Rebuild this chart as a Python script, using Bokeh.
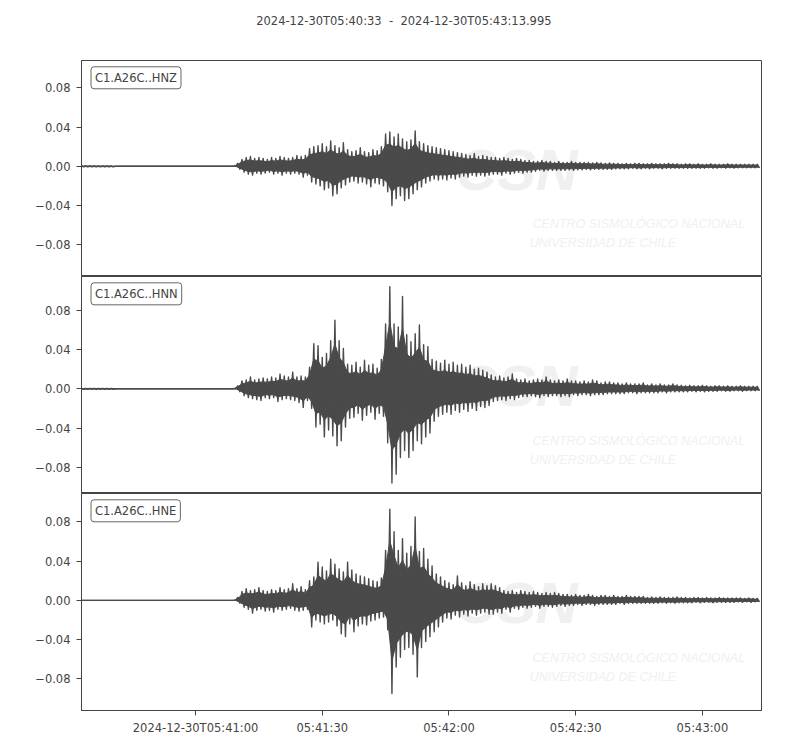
from bokeh.core.properties import value
from bokeh.embed import file_html
from bokeh.layouts import column
from bokeh.models import FixedTicker, Label, Range1d
from bokeh.plotting import figure
from bokeh.resources import INLINE

title_text = "2024-12-30T05:40:33 \u00a0-\u00a0 2024-12-30T05:43:13.995"
channels = ["C1.A26C..HNZ", "C1.A26C..HNN", "C1.A26C..HNE"]
duration = 160.995  # seconds after 05:40:33
seconds = list(range(161))

x_ticks = [27, 57, 87, 117, 147]
x_tick_labels = ["2024-12-30T05:41:00", "05:41:30", "05:42:00", "05:42:30", "05:43:00"]
y_ticks = [0.08, 0.04, 0.0, -0.04, -0.08]
y_tick_labels = ["0.08", "0.04", "0.00", "\u22120.04", "\u22120.08"]
y_limits = [(-0.1125, 0.108), (-0.1067, 0.1144), (-0.1123, 0.109)]

watermark = ["CSN", "CENTRO SISMOL\u00d3GICO NACIONAL", "UNIVERSIDAD DE CHILE"]

# envelope of each trace per second, in units of 0.001 (upper peak, lower peak)
hnz_hi = [0.5, 0.5, 0.5, 0.5, 0.5, 0.5, 0.5, 0.5, 0, 0,
          0, 0, 0, 0, 0, 0, 0, 0, 0, 0,
          0, 0, 0, 0, 0, 0, 0, 0, 0, 0,
          0, 0, 0, 0, 0, 0, 0, 3, 7, 9,
          10, 8, 9, 8, 7, 9, 8, 10, 9, 8,
          9, 11, 10, 11, 18, 20, 21, 23, 20, 26,
          21, 19, 24, 17, 15, 16, 19, 15, 14, 17,
          16, 20, 33, 35, 30, 33, 28, 25, 27, 36,
          25, 23, 21, 20, 19, 18, 17, 16, 15, 14,
          13, 12, 11, 13, 10, 11, 10, 9, 9, 8,
          9, 8, 7, 8, 7, 6, 6, 5, 5, 6,
          5, 5, 4, 5, 4, 4, 5, 4, 4, 4,
          4, 3.5, 4, 3.5, 3, 3.5, 3, 3, 2.5, 3,
          2.5, 3, 3, 2.5, 2.5, 3, 2.5, 2.5, 2.5, 3,
          2.5, 2.5, 2, 2.5, 2.5, 2, 2.5, 2, 2, 2.5,
          2, 2, 2, 2.5, 2, 2, 2, 2, 2, 2,
          2]
hnz_lo = [-0.5, -0.5, -0.5, -0.5, -0.5, -0.5, -0.5, -0.5, 0, 0,
          0, 0, 0, 0, 0, 0, 0, 0, 0, 0,
          0, 0, 0, 0, 0, 0, 0, 0, 0, 0,
          0, 0, 0, 0, 0, 0, 0, -3, -6, -8,
          -9, -7, -8, -7, -6, -8, -7, -9, -7, -8,
          -7, -8, -11, -9, -16, -18, -20, -24, -22, -30,
          -28, -22, -19, -16, -15, -17, -16, -18, -21, -17,
          -18, -20, -26, -40, -33, -30, -35, -33, -28, -24,
          -21, -17, -15, -13, -14, -13, -14, -12, -13, -11,
          -10, -11, -9, -10, -9, -10, -9, -8, -8, -9,
          -7, -8, -7, -6, -7, -6, -6, -5, -4, -5,
          -4, -4, -4, -4, -4, -3.5, -4, -3.5, -3.5, -3,
          -3.5, -3, -3, -3, -3, -3, -2.5, -2.5, -2.5, -2.5,
          -2, -2.5, -2.5, -2, -2.5, -2, -2, -2.5, -2, -2,
          -2, -2, -2, -2, -2, -2, -2, -2, -1.5, -2,
          -2, -1.5, -2, -1.5, -2, -1.5, -1.5, -1.5, -1.5, -1.5,
          -1.5]

hnn_hi = [0.5, 0.5, 0.5, 0.5, 0.5, 0.5, 0.5, 0.5, 0, 0,
          0, 0, 0, 0, 0, 0, 0, 0, 0, 0,
          0, 0, 0, 0, 0, 0, 0, 0, 0, 0,
          0, 0, 0, 0, 0, 0, 0, 3, 8, 9,
          12, 9, 10, 11, 10, 12, 11, 15, 13, 12,
          17, 12, 13, 12, 22, 46, 44, 32, 36, 49,
          70, 49, 41, 25, 24, 27, 22, 29, 24, 25,
          21, 30, 66, 104, 66, 63, 94, 55, 48, 56,
          65, 45, 43, 30, 28, 26, 29, 25, 27, 24,
          25, 22, 24, 20, 21, 19, 17, 14, 12, 13,
          11, 12, 15, 10, 9, 10, 8, 9, 10, 9,
          12, 9, 8, 9, 8, 10, 8, 8, 7, 8,
          7, 9, 8, 6, 7, 7, 6, 6, 5, 6,
          5, 5, 5, 6, 4, 5, 4, 5, 4, 4,
          5, 4, 3.5, 3, 3.5, 3, 3, 3.5, 3, 2.5,
          3, 3, 2.5, 3, 2.5, 2.5, 3, 2.5, 2.5, 2.5,
          2.5]
hnn_lo = [-0.5, -0.5, -0.5, -0.5, -0.5, -0.5, -0.5, -0.5, 0, 0,
          0, 0, 0, 0, 0, 0, 0, 0, 0, 0,
          0, 0, 0, 0, 0, 0, 0, 0, 0, 0,
          0, 0, 0, 0, 0, 0, 0, -3, -7, -9,
          -10, -11, -12, -9, -10, -9, -13, -11, -10, -11,
          -12, -14, -19, -12, -20, -39, -36, -49, -42, -48,
          -58, -53, -39, -30, -29, -25, -32, -27, -24, -31,
          -25, -28, -55, -96, -87, -70, -63, -70, -63, -53,
          -56, -49, -45, -33, -28, -26, -24, -26, -22, -24,
          -21, -23, -20, -22, -18, -19, -17, -13, -12, -11,
          -12, -10, -11, -9, -8, -8, -7, -8, -9, -7,
          -8, -7, -7, -8, -7, -8, -6, -7, -6, -6,
          -7, -6, -6, -6, -5, -5, -5, -5, -5, -4,
          -4, -5, -4, -4, -4, -4, -4, -3, -4, -3,
          -3, -3, -3, -3, -2.5, -3, -2.5, -3, -2.5, -2.5,
          -2.5, -2, -2.5, -2.5, -2, -2, -2.5, -2, -2, -2,
          -2]

hne_hi = [0, 0, 0, 0, 0, 0, 0, 0, 0, 0,
          0, 0, 0, 0, 0, 0, 0, 0, 0, 0,
          0, 0, 0, 0, 0, 0, 0, 0, 0, 0,
          0, 0, 0, 0, 0, 0, 0, 3, 9, 12,
          10, 11, 13, 10, 9, 11, 10, 13, 11, 12,
          17, 12, 14, 11, 20, 24, 39, 34, 30, 42,
          37, 32, 29, 39, 31, 27, 25, 24, 22, 20,
          19, 23, 51, 93, 70, 51, 63, 48, 55, 85,
          50, 53, 42, 35, 27, 24, 20, 18, 16, 25,
          18, 15, 19, 16, 14, 17, 15, 17, 15, 13,
          10, 9, 10, 8, 10, 9, 8, 9, 8, 7,
          8, 7, 8, 7, 6, 6, 5, 6, 5, 5,
          6, 5, 4, 5, 5, 4, 5, 4, 4, 5,
          4, 4, 4, 4, 3, 3.5, 3, 3.5, 3, 3,
          3, 3.5, 3, 3, 2.5, 3, 3, 2.5, 3, 2.5,
          2.5, 3, 2.5, 2.5, 2.5, 2.5, 2.5, 2, 2.5, 2,
          2]
hne_lo = [0, 0, 0, 0, 0, 0, 0, 0, 0, 0,
          0, 0, 0, 0, 0, 0, 0, 0, 0, 0,
          0, 0, 0, 0, 0, 0, 0, 0, 0, 0,
          0, 0, 0, 0, 0, 0, 0, -3, -7, -9,
          -13, -10, -9, -11, -10, -12, -9, -10, -9, -8,
          -10, -11, -10, -9, -27, -20, -22, -24, -22, -20,
          -26, -34, -37, -24, -32, -26, -24, -25, -21, -20,
          -18, -17, -30, -95, -68, -58, -50, -48, -55, -78,
          -48, -42, -37, -32, -27, -22, -18, -19, -15, -17,
          -14, -16, -13, -15, -13, -12, -14, -14, -12, -13,
          -9, -12, -8, -9, -7, -8, -7, -6, -8, -6,
          -6, -7, -6, -5, -6, -5, -5, -4, -5, -4,
          -4, -5, -4, -4, -4, -4, -4, -3, -4, -3,
          -3, -3, -3, -3, -3, -3, -3, -2.5, -3, -2.5,
          -3, -2.5, -2.5, -2.5, -2.5, -2, -2.5, -2, -2, -2.5,
          -2, -2, -2, -2, -2, -1.5, -2, -1.5, -2, -1.5,
          -1.5]

traces = [(hnz_hi, hnz_lo), (hnn_hi, hnn_lo), (hne_hi, hne_lo)]

INK = "#444444"
TRACE = "#4a4a4a"
FONT = "DejaVu Sans"
PX = 980.0   # pixels per unit on the y axes
CORE = 0.65  # share of each swing drawn as the solid, densely oscillating core
WIDTH = 791

# strip above the panels that carries the figure title
head = figure(width=WIDTH, height=60, x_range=(0, WIDTH), y_range=(0, 60),
              output_backend="svg", toolbar_location=None, tools="",
              min_border=0, outline_line_color=None)
head.axis.visible = False
head.grid.visible = False
head.text(x=[375], y=[60 - 20.7], text=[title_text], text_font=value(FONT),
          text_font_size="11.5px", text_color=INK, text_align="center",
          text_baseline="middle")

x_range = Range1d(0, duration)
panels = [head]
for i, (hi, lo) in enumerate(traces):
    bottom = 30 if i == 2 else 0
    frame_h = 216 if i == 0 else 217
    ymin, ymax = y_limits[i]
    p = figure(width=WIDTH, height=frame_h + bottom, x_range=x_range,
               y_range=Range1d(ymin, ymax), output_backend="svg",
               toolbar_location=None, tools="",
               min_border_left=81, min_border_right=30,
               min_border_top=0, min_border_bottom=bottom)
    p.grid.visible = False
    p.outline_line_color = INK
    p.background_fill_color = "white"

    # faint logo in the background
    p.text(x=[88.5], y=[ymax - 109 / PX], text=[watermark[0]],
           text_font=value("Liberation Sans"), text_font_style="bold italic",
           text_font_size="58px", text_color="#f0f0f0", text_baseline="middle")
    p.text(x=[106.8, 106.1], y=[ymax - 164 / PX, ymax - 183 / PX],
           text=watermark[1:], text_font=value("Liberation Sans"),
           text_font_style="italic", text_font_size="12.5px",
           text_color="#f0f0f0", text_baseline="middle")

    # trace: upper peak at each second, lower peak half a second later
    xs, ys = [], []
    for s, a, b in zip(seconds, hi, lo):
        xs += [s, s + 0.5]
        ys += [a / 1000, b / 1000]
    core_x = seconds + [s + 0.5 for s in reversed(seconds)]
    core_y = [CORE * a / 1000 for a in hi] + [CORE * b / 1000 for b in reversed(lo)]
    p.patch(core_x, core_y, fill_color=TRACE, line_color=TRACE, line_width=1)
    p.line(xs, ys, line_color=TRACE, line_width=1.4, line_join="round")

    p.add_layout(Label(x=2.25, y=ymax - 17.3 / PX, text=channels[i],
                       text_font=FONT, text_font_size="11.5px", text_color=INK,
                       text_baseline="middle", padding=4, border_radius=3,
                       background_fill_color="white",
                       border_line_color="#666666", border_line_width=1))

    p.yaxis.ticker = FixedTicker(ticks=y_ticks)
    p.yaxis.major_label_overrides = dict(zip(y_ticks, y_tick_labels))
    p.xaxis.ticker = FixedTicker(ticks=x_ticks)
    p.xaxis.major_label_overrides = dict(zip(x_ticks, x_tick_labels))
    for ax in (p.xaxis, p.yaxis):
        ax.axis_line_color = INK
        ax.major_tick_line_color = INK
        ax.minor_tick_line_color = None
        ax.major_tick_in = 0
        ax.major_tick_out = 5
        ax.major_label_text_font = FONT
        ax.major_label_text_font_size = "11.5px"
        ax.major_label_text_color = INK
    p.yaxis.major_label_standoff = 6
    p.xaxis.major_label_standoff = 5
    if i < 2:
        p.xaxis.visible = False
    panels.append(p)

layout = column(*panels, spacing=0)
open("out.html", "w").write(file_html(layout, INLINE))
